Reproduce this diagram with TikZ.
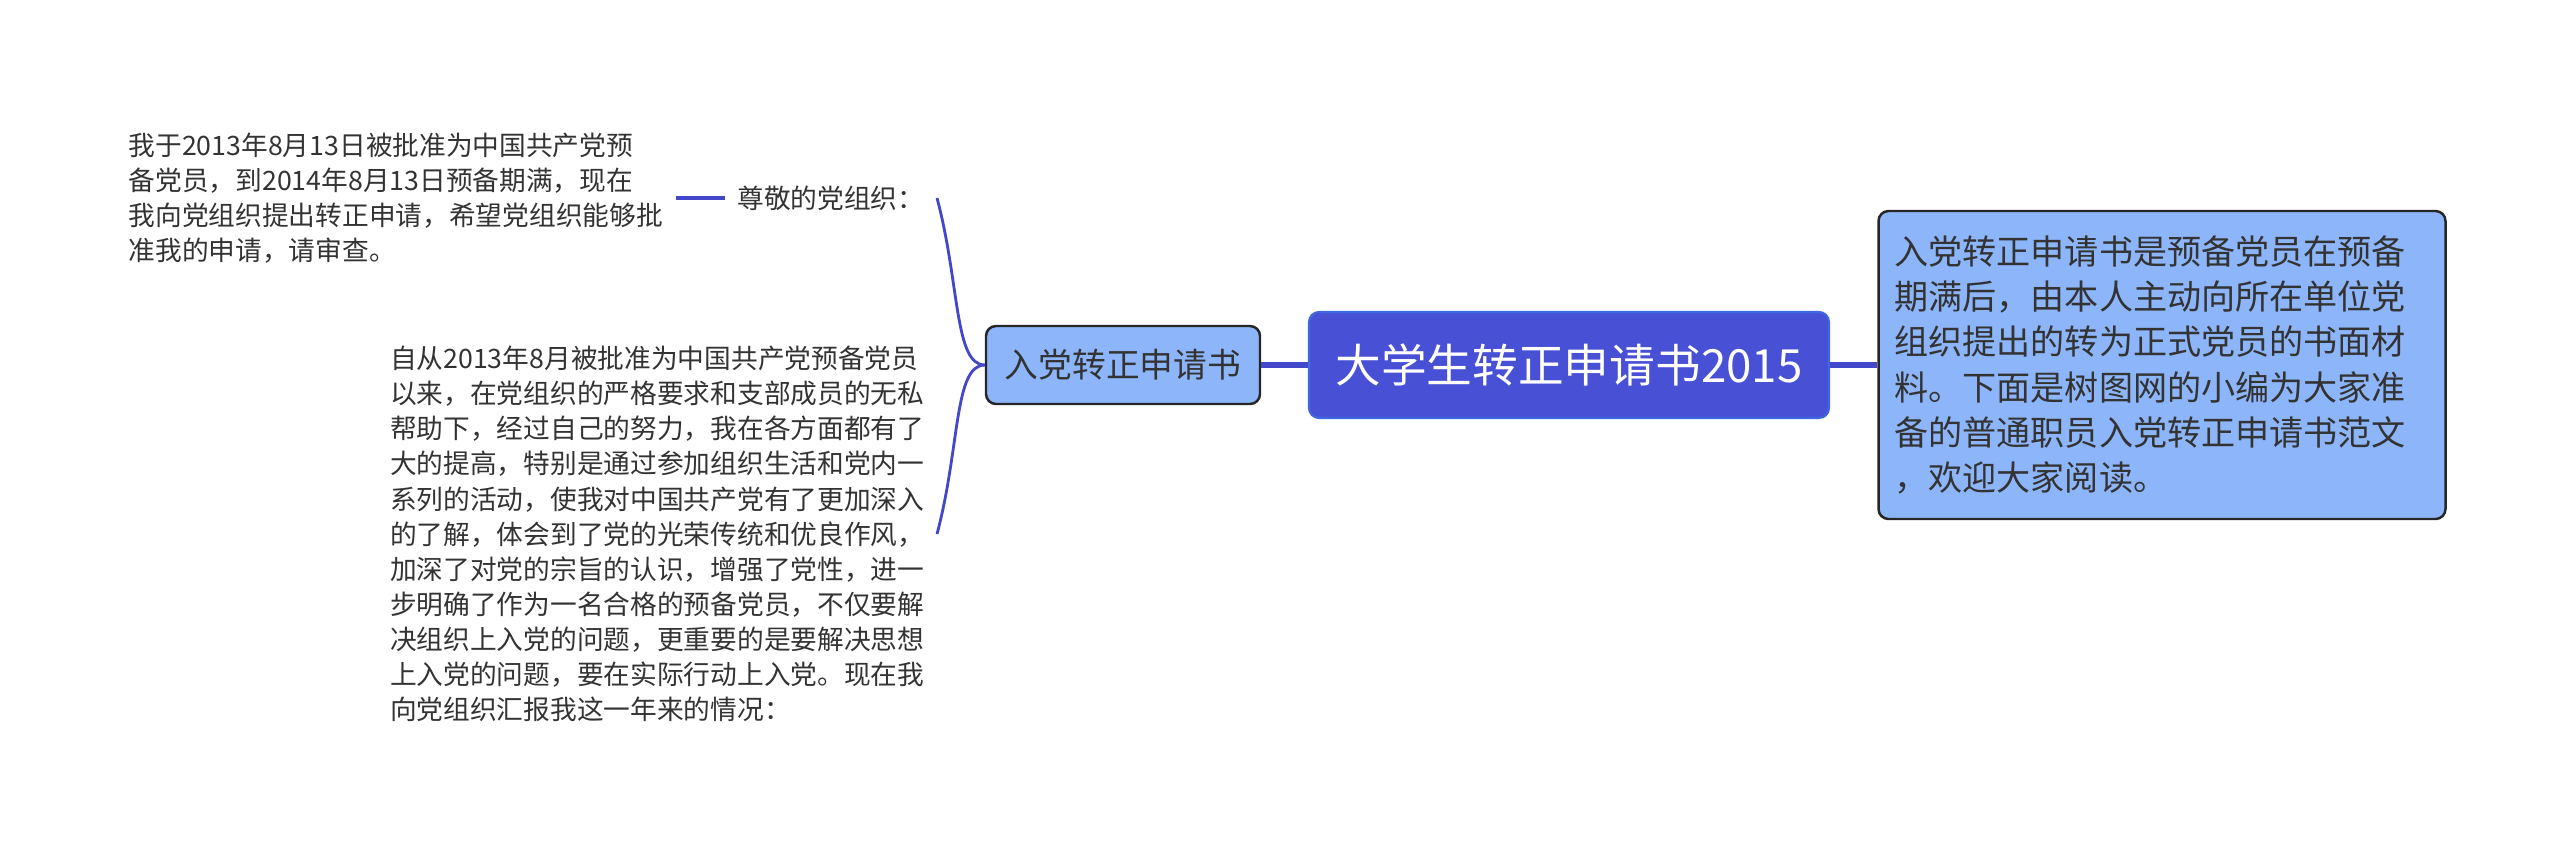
\documentclass[tikz,border=0pt]{standalone}
\usepackage{fontspec}
\setmainfont{Noto Sans CJK SC}
\usetikzlibrary{positioning}
\definecolor{mroot}{HTML}{4850D6}
\definecolor{mrootline}{HTML}{3F68E0}
\definecolor{msub}{HTML}{8DB6FA}
\definecolor{mlink}{HTML}{4347C9}
\definecolor{mtext}{HTML}{333333}
\tikzset{
  rootbox/.style={draw=mrootline, fill=mroot, text=white, rounded corners=0.1cm,
                  line width=0.6pt, minimum width=5.2cm, minimum height=1.06cm,
                  font=\fontsize{13}{15}\selectfont},
  subbox/.style={draw=black!85, fill=msub, text=mtext, rounded corners=0.1cm,
                 line width=0.7pt},
  leaf/.style={text=mtext, align=left, inner sep=0.12cm,
               font=\fontsize{7.6}{10}\selectfont},
  trunk/.style={mlink, line width=1.7pt},
  twig/.style={mlink, line width=0.8pt},
}
\begin{document}
\begin{tikzpicture}
  \useasboundingbox (0,0) rectangle (25.6,8.53);

  % Mittelpunkt und Beschreibung
  \node[rootbox] (root) at (15.69,4.88) {大学生转正申请书2015};
  \node[subbox, align=left, text width=5.35cm, inner xsep=0.16cm, minimum height=3.08cm,
        font=\fontsize{9.7}{12.9}\selectfont] (desc) at (21.62,4.88)
    {入党转正申请书是预备党员在预备\\期满后，由本人主动向所在单位党\\组织提出的转为正式党员的书面材\\料。下面是树图网的小编为大家准\\备的普通职员入党转正申请书范文\\，欢迎大家阅读。};
  \draw[trunk] (root.east) -- (desc.west);

  % Linker Zweig
  \node[subbox, minimum width=2.74cm, minimum height=0.78cm,
        font=\fontsize{9.6}{11}\selectfont] (sub) at (11.23,4.88) {入党转正申请书};
  \draw[trunk] (root.west) -- (sub.east);

  \node[leaf, anchor=east] (greet) at (9.37,6.55) {尊敬的党组织：};
  \node[leaf, left=0.49cm of greet] (topleaf)
    {我于2013年8月13日被批准为中国共产党预\\备党员，到2014年8月13日预备期满，现在\\我向党组织提出转正申请，希望党组织能够批\\准我的申请，请审查。};
  \node[leaf, anchor=east] (botleaf) at (9.37,3.19)
    {自从2013年8月被批准为中国共产党预备党员\\以来，在党组织的严格要求和支部成员的无私\\帮助下，经过自己的努力，我在各方面都有了\\大的提高，特别是通过参加组织生活和党内一\\系列的活动，使我对中国共产党有了更加深入\\的了解，体会到了党的光荣传统和优良作风，\\加深了对党的宗旨的认识，增强了党性，进一\\步明确了作为一名合格的预备党员，不仅要解\\决组织上入党的问题，更重要的是要解决思想\\上入党的问题，要在实际行动上入党。现在我\\向党组织汇报我这一年来的情况：};

  \draw[twig] (sub.west) to[out=180, in=-75, out looseness=0.45, in looseness=1.3] (greet.east);
  \draw[twig] (sub.west) to[out=180, in=75, out looseness=0.45, in looseness=1.3] (botleaf.east);
  \draw[twig, line width=0.9pt] (greet.west) -- (topleaf.east);
\end{tikzpicture}
\end{document}
